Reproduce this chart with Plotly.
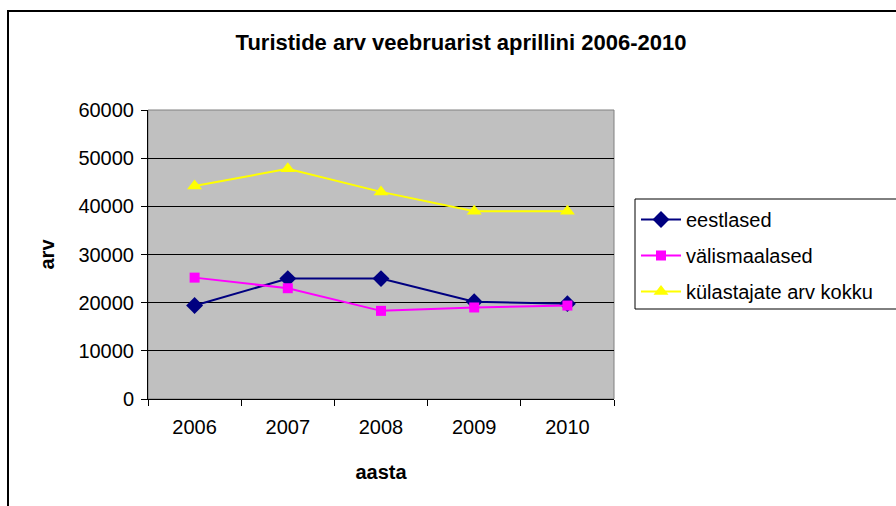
import plotly.graph_objects as go

years = ["2006", "2007", "2008", "2009", "2010"]
eestlased = [19400, 25000, 25000, 20200, 19800]
valismaalased = [25200, 23000, 18300, 19000, 19400]
kokku = [44200, 47800, 43000, 39000, 39000]
y_ticks = [0, 10000, 20000, 30000, 40000, 50000, 60000]

FONT = "Liberation Sans, Arial, sans-serif"

W, H = 896, 506
L, R, T, B = 148, 614, 110, 399

fig = go.Figure()
fig.add_trace(go.Scatter(x=years, y=eestlased, name="eestlased", mode="lines+markers",
                         line=dict(color="#000080", width=2),
                         marker=dict(symbol="diamond", size=13, color="#000080"),
                         legendgroup="a"))
fig.add_trace(go.Scatter(x=years, y=valismaalased, name="välismaalased", mode="lines+markers",
                         line=dict(color="#FF00FF", width=2),
                         marker=dict(symbol="square", size=10, color="#FF00FF"),
                         legendgroup="b"))
fig.add_trace(go.Scatter(x=years, y=kokku, name="külastajate arv kokku", mode="lines+markers",
                         line=dict(color="#FFFF00", width=2),
                         marker=dict(symbol="triangle-up", size=13, color="#FFFF00"),
                         legendgroup="c"))

def px_x(p):
    return (p - L) / (R - L)

def px_y(p):
    return (B - p) / (B - T)

# outer chart border
fig.add_shape(type="rect", xref="paper", yref="paper",
              x0=px_x(8), x1=px_x(930), y0=px_y(540), y1=px_y(11),
              line=dict(color="black", width=2), layer="below")
# plot area border (gray)
fig.add_shape(type="rect", xref="paper", yref="paper",
              x0=0, x1=1, y0=0, y1=1,
              line=dict(color="#808080", width=1), layer="below")
# legend frame (runs off the right edge as in the original)
fig.add_shape(type="rect", xref="paper", yref="paper",
              x0=px_x(635), x1=px_x(940), y0=px_y(309), y1=px_y(199),
              line=dict(color="black", width=1), fillcolor="white", layer="above")

fig.update_layout(
    width=W, height=H,
    margin=dict(l=L, r=W - R, t=T, b=H - B, autoexpand=False),
    paper_bgcolor="white",
    plot_bgcolor="#C0C0C0",
    font=dict(family=FONT, size=20, color="black"),
    title=dict(text="<b>Turistide arv veebruarist aprillini 2006-2010</b>",
               x=px_x(461), xref="paper", xanchor="center",
               y=1 - 42 / H, yanchor="middle",
               font=dict(family=FONT, size=22, color="black")),
    showlegend=True,
    legend=dict(x=px_x(636), xanchor="left", y=px_y(200), yanchor="top",
                bgcolor="rgba(0,0,0,0)", borderwidth=0,
                font=dict(family=FONT, size=20, color="black"),
                traceorder="grouped", tracegroupgap=7,
                itemwidth=40),
    xaxis=dict(type="category", range=[-0.5, 4.5], tickson="boundaries",
               ticks="outside", ticklen=6, tickcolor="black",
               showline=True, linecolor="black", linewidth=1,
               showgrid=False, zeroline=False, ticklabelstandoff=10,
               automargin=False,
               tickfont=dict(family=FONT, size=20),
               title=dict(text="<b>aasta</b>", standoff=27,
                          font=dict(family=FONT, size=20))),
    yaxis=dict(range=[0, 60000], tickvals=y_ticks,
               ticktext=[str(v) for v in y_ticks],
               ticks="outside", ticklen=6, tickcolor="black",
               showline=True, linecolor="black", linewidth=1,
               showgrid=True, gridcolor="black", gridwidth=1,
               zeroline=False, ticklabelstandoff=3, automargin=False,
               tickfont=dict(family=FONT, size=20),
               title=dict(text="<b>arv</b>", standoff=18,
                          font=dict(family=FONT, size=20))),
)

fig.write_html("out.html", config={"displayModeBar": False},
               post_script="document.body.style.margin='0';document.body.style.overflow='hidden';")
